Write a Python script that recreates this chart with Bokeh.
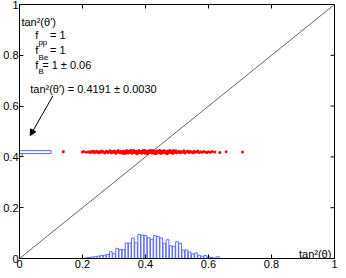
import math
from bokeh.plotting import figure
from bokeh.models import Range1d, FixedTicker, Label, Arrow, NormalHead
from bokeh.embed import file_html
from bokeh.resources import INLINE

# ---------------- data ----------------
tick_values = [0, 0.2, 0.4, 0.6, 0.8, 1]
tick_labels = ["0", "0.2", "0.4", "0.6", "0.8", "1"]

# histogram of tan^2(theta) (bottom)
hist_centers = [0.21, 0.22, 0.23, 0.24, 0.25, 0.26, 0.27, 0.28, 0.29, 0.30,
                0.31, 0.32, 0.33, 0.34, 0.35, 0.36, 0.37, 0.38, 0.39, 0.40,
                0.41, 0.42, 0.43, 0.44, 0.45, 0.46, 0.47, 0.48, 0.49, 0.50,
                0.51, 0.52, 0.53, 0.54, 0.55, 0.56, 0.57, 0.58, 0.59, 0.60,
                0.61, 0.62, 0.63]
hist_heights = [0.002, 0.004, 0.006, 0.007, 0.009, 0.012, 0.013, 0.016, 0.027, 0.019,
                0.040, 0.036, 0.035, 0.061, 0.061, 0.080, 0.062, 0.095, 0.092, 0.091,
                0.082, 0.076, 0.090, 0.086, 0.081, 0.060, 0.074, 0.050, 0.048, 0.066,
                0.060, 0.033, 0.034, 0.026, 0.018, 0.022, 0.013, 0.009, 0.012, 0.006,
                0.004, 0.002, 0.007]

# histogram of fitted tan^2(theta') (left, horizontal)
yhist_centers = [0.419, 0.4075]
yhist_lengths = [0.100, 0.009]

# fitted points (red)
scatter_x = [0.139, 0.200, 0.204, 0.212, 0.219, 0.224, 0.228, 0.231, 0.234, 0.236,
             0.238, 0.241, 0.245, 0.248, 0.252, 0.255, 0.259, 0.262, 0.266, 0.270,
             0.273, 0.277, 0.281, 0.284, 0.288, 0.291, 0.295, 0.299, 0.302, 0.306,
             0.310, 0.313, 0.317, 0.321, 0.324, 0.328,
             0.331, 0.334, 0.337, 0.340, 0.343, 0.346, 0.349, 0.352, 0.355, 0.358,
             0.361, 0.364, 0.367, 0.370, 0.373, 0.376, 0.379, 0.382, 0.385, 0.388,
             0.391, 0.394, 0.397, 0.400, 0.403, 0.406, 0.409, 0.412, 0.415, 0.418,
             0.421, 0.424, 0.427, 0.430, 0.433, 0.436, 0.439, 0.442, 0.445, 0.448,
             0.451, 0.454, 0.457, 0.460, 0.463, 0.466, 0.469, 0.472, 0.475, 0.478,
             0.481, 0.484, 0.487, 0.490, 0.493, 0.496, 0.499,
             0.3325, 0.3385, 0.3445, 0.3505, 0.3565, 0.3625, 0.3685, 0.3745, 0.3805, 0.3865,
             0.3925, 0.3985, 0.4045, 0.4105, 0.4165, 0.4225, 0.4285, 0.4345, 0.4405, 0.4465,
             0.4525, 0.4585, 0.4645, 0.4705, 0.4765, 0.4825, 0.4885, 0.4945,
             0.502, 0.506, 0.510, 0.514, 0.518, 0.522, 0.526, 0.530, 0.534, 0.538,
             0.542, 0.546, 0.550, 0.554, 0.558, 0.562, 0.566, 0.570, 0.575, 0.580,
             0.585, 0.590, 0.595, 0.600, 0.606, 0.612,
             0.620, 0.636, 0.656, 0.708]
scatter_y = [0.420, 0.419, 0.421, 0.418, 0.420, 0.417, 0.421, 0.419, 0.422, 0.418,
             0.420, 0.417, 0.422, 0.419, 0.416, 0.421, 0.418, 0.423, 0.420, 0.415,
             0.419, 0.422, 0.417, 0.420, 0.424, 0.416, 0.421, 0.418, 0.423, 0.414,
             0.420, 0.425, 0.417, 0.421, 0.415, 0.422,
             0.413, 0.421, 0.417, 0.425, 0.419, 0.415, 0.423, 0.418, 0.426, 0.414,
             0.420, 0.424, 0.416, 0.422, 0.412, 0.419, 0.425, 0.417, 0.421, 0.414,
             0.423, 0.418, 0.426, 0.415, 0.420, 0.413, 0.424, 0.417, 0.422, 0.419,
             0.415, 0.425, 0.418, 0.421, 0.413, 0.423, 0.416, 0.420, 0.426, 0.414,
             0.422, 0.417, 0.424, 0.419, 0.415, 0.421, 0.412, 0.423, 0.418, 0.425,
             0.416, 0.420, 0.414, 0.422, 0.418, 0.424, 0.416,
             0.418, 0.414, 0.422, 0.420, 0.416, 0.424, 0.419, 0.413, 0.421, 0.417,
             0.425, 0.415, 0.422, 0.418, 0.426, 0.420, 0.414, 0.423, 0.417, 0.421,
             0.415, 0.424, 0.419, 0.416, 0.422, 0.418, 0.425, 0.420,
             0.419, 0.422, 0.416, 0.421, 0.418, 0.424, 0.415, 0.420, 0.423, 0.417,
             0.421, 0.419, 0.416, 0.422, 0.418, 0.420, 0.423, 0.417, 0.420, 0.418,
             0.421, 0.419, 0.417, 0.420, 0.418, 0.421,
             0.419, 0.417, 0.420, 0.419]

diag_x = [0, 1]
diag_y = [0, 1]

fit_value = "0.4191"
fit_error = "0.0030"
fB_error = "0.06"

FONT = "Liberation Sans"
BLUE = "#5a6cf2"

# ---------------- figure ----------------
p = figure(width=338, height=270, x_range=Range1d(0, 1), y_range=Range1d(0, 1),
           output_backend="svg", toolbar_location=None,
           min_border_left=0, min_border_right=4, min_border_top=4, min_border_bottom=0)
p.xgrid.visible = False
p.ygrid.visible = False
p.outline_line_color = "black"
p.outline_line_width = 1
p.background_fill_color = "white"
p.border_fill_color = "white"

ticker = FixedTicker(ticks=tick_values)
overrides = {v: s for v, s in zip(tick_values, tick_labels)}

for ax in [p.below[0], p.left[0]]:
    ax.ticker = ticker
    ax.major_label_overrides = overrides
    ax.major_tick_in = 4
    ax.major_tick_out = 0
    ax.minor_tick_in = 0
    ax.minor_tick_out = 0
    ax.axis_line_color = "black"
    ax.major_tick_line_color = "black"
    ax.major_label_text_font = FONT
    ax.major_label_text_font_size = "11px"
    ax.major_label_text_color = "black"
    ax.major_label_standoff = 1

# box ticks on top and right (half of each dash is clipped by the frame)
p.scatter(x=tick_values, y=[p.y_range.end] * len(tick_values), marker="dash",
          angle=math.pi / 2, size=8, line_color="black", line_width=1)
p.scatter(x=[p.x_range.end] * len(tick_values), y=tick_values, marker="dash",
          size=8, line_color="black", line_width=1)

# diagonal
p.line(diag_x, diag_y, line_color="#222222", line_width=0.7)

# histogram bottom
p.vbar(x=hist_centers, top=hist_heights, bottom=0, width=0.0085,
       fill_color=None, line_color=BLUE, line_width=1)

# horizontal histogram on the left
p.hbar(y=yhist_centers, right=yhist_lengths, left=0, height=0.0115,
       fill_color=None, line_color=BLUE, line_width=1)

# red fitted points
p.scatter(scatter_x, scatter_y, marker="circle", size=3.0,
          fill_color="#ff0000", line_color=None)

# ---------------- annotations ----------------
def lab(x, y, text, size="11px", align="left"):
    p.add_layout(Label(x=x, y=y, text=text, text_font=FONT, text_font_size=size,
                       text_baseline="alphabetic", text_align=align,
                       text_color="black"))

lab(0.006, 0.930, "tan²(θ′)")
lab(0.050, 0.878, "f")
lab(0.060, 0.852, "pp", "8px")
lab(0.097, 0.878, "= 1")
lab(0.050, 0.820, "f")
lab(0.060, 0.793, "Be", "8px")
lab(0.097, 0.820, "= 1")
lab(0.050, 0.760, "f")
lab(0.060, 0.735, "B", "8px")
lab(0.072, 0.760, "= 1 ± " + fB_error)
lab(0.034, 0.667, "tan²(θ′) = " + fit_value + " ± " + fit_error)
lab(0.990, 0.018, "tan²(θ)", align="right")

p.add_layout(Arrow(end=NormalHead(size=6, fill_color="black", line_color="black"),
                   x_start=0.106, y_start=0.640, x_end=0.034, y_end=0.484,
                   line_color="black", line_width=1))

open("out.html", "w").write(file_html(p, INLINE))
